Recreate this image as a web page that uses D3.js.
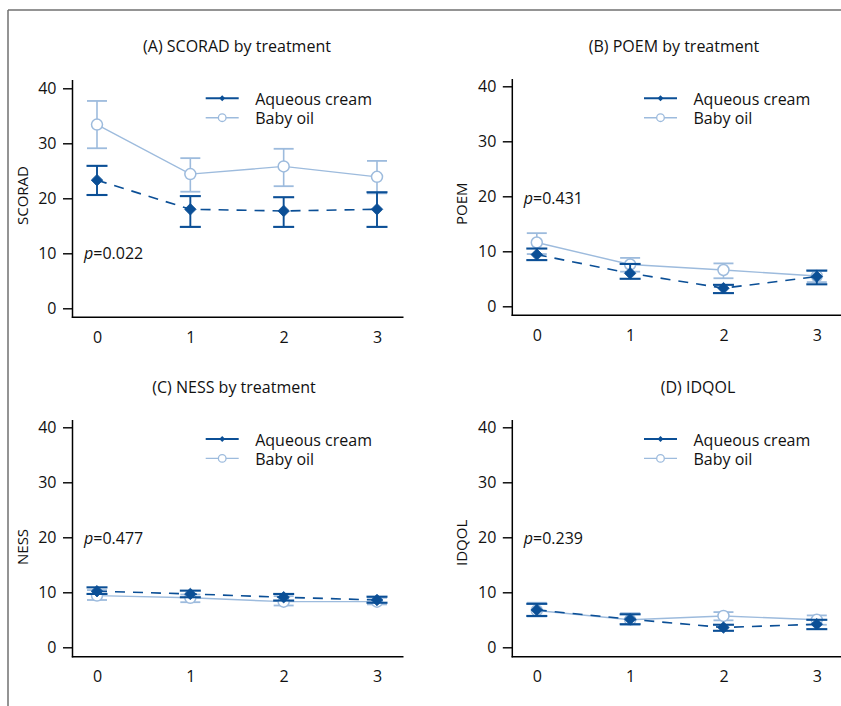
<!DOCTYPE html>
<html>
<head>
<meta charset="utf-8">
<script src="https://cdn.jsdelivr.net/npm/d3@7/dist/d3.min.js"></script>
<style>
  html, body { margin: 0; padding: 0; background: #fff; }
  svg { display: block; font-family: "Open Sans", "Noto Sans", sans-serif; }
</style>
</head>
<body>
<svg id="chart" width="841" height="706"></svg>
<script>
// ---------------- DATA ----------------
const visits = [0, 1, 2, 3];
const yTicks = [0, 10, 20, 30, 40];
const seriesNames = ["Aqueous cream", "Baby oil"];

const panelTitles = ["(A) SCORAD by treatment", "(B) POEM by treatment", "(C) NESS by treatment", "(D) IDQOL"];
const yLabels = ["SCORAD", "POEM", "NESS", "IDQOL"];
const pValues = ["0.022", "0.431", "0.477", "0.239"];

// SCORAD
const scoradAqMean = [23.3, 18.0, 17.7, 18.0];
const scoradAqLo   = [20.6, 14.8, 14.8, 14.8];
const scoradAqHi   = [25.9, 20.4, 20.2, 21.1];
const scoradBoMean = [33.4, 24.4, 25.8, 23.9];
const scoradBoLo   = [29.1, 21.2, 22.2, 20.9];
const scoradBoHi   = [37.7, 27.3, 29.0, 26.8];
// POEM
const poemAqMean = [9.4, 6.0, 3.3, 5.4];
const poemAqLo   = [8.4, 5.0, 2.4, 4.0];
const poemAqHi   = [10.5, 7.7, 3.9, 6.5];
const poemBoMean = [11.6, 7.6, 6.6, 5.5];
const poemBoLo   = [9.5, 6.3, 5.1, 4.4];
const poemBoHi   = [13.3, 8.8, 7.8, 6.4];
// NESS
const nessAqMean = [10.2, 9.7, 9.1, 8.6];
const nessAqLo   = [9.7, 9.1, 8.5, 8.1];
const nessAqHi   = [10.9, 10.3, 9.7, 9.2];
const nessBoMean = [9.4, 9.0, 8.3, 8.3];
const nessBoLo   = [8.6, 8.2, 7.6, 7.8];
const nessBoHi   = [10.4, 9.6, 9.3, 9.0];
// IDQOL
const idqolAqMean = [6.8, 5.1, 3.6, 4.2];
const idqolAqLo   = [5.7, 4.2, 3.0, 3.3];
const idqolAqHi   = [7.9, 6.0, 4.1, 5.0];
const idqolBoMean = [6.7, 5.0, 5.7, 5.0];
const idqolBoLo   = [5.6, 4.1, 4.9, 4.1];
const idqolBoHi   = [8.1, 6.2, 6.4, 5.8];

// ---------------- LAYOUT ----------------
const AQ = "#0b4f96", BO = "#9dbbdd";
const layouts = [
  {ax: 72.5, y0: 308.3, y40: 88.3, axTop: 80, xAxisY: 317.3, titleX: 237, titleY: 52, legX: 205.7, legY: 98.3, pY: 259, ylabX: 28, ylabY: 225},
  {ax: 512.3, y0: 306.3, y40: 86.3, axTop: 79, xAxisY: 315.3, titleX: 674, titleY: 52, legX: 644, legY: 98.3, pY: 204, ylabX: 467, ylabY: 225},
  {ax: 72.5, y0: 647.3, y40: 427.3, axTop: 420, xAxisY: 656.7, titleX: 234, titleY: 392.5, legX: 205.7, legY: 439, pY: 544, ylabX: 28, ylabY: 565},
  {ax: 512.3, y0: 647.3, y40: 427.3, axTop: 420, xAxisY: 656.7, titleX: 698, titleY: 392.5, legX: 644, legY: 439, pY: 544, ylabX: 467, ylabY: 566}
];

const panelData = [
  [[scoradAqMean, scoradAqLo, scoradAqHi], [scoradBoMean, scoradBoLo, scoradBoHi]],
  [[poemAqMean, poemAqLo, poemAqHi], [poemBoMean, poemBoLo, poemBoHi]],
  [[nessAqMean, nessAqLo, nessAqHi], [nessBoMean, nessBoLo, nessBoHi]],
  [[idqolAqMean, idqolAqLo, idqolAqHi], [idqolBoMean, idqolBoLo, idqolBoHi]]
];

const svg = d3.select("#chart");

// outer frame (top and left edges visible)
svg.append("line").attr("x1", 8).attr("x2", 841).attr("y1", 10).attr("y2", 10)
  .attr("stroke", "#707070").attr("stroke-width", 1.5);
svg.append("line").attr("x1", 8).attr("x2", 8).attr("y1", 10).attr("y2", 706)
  .attr("stroke", "#707070").attr("stroke-width", 1.5);

const diamond = d3.symbol().type(d3.symbolDiamond2);

layouts.forEach((L, i) => {
  const g = svg.append("g");
  const x = d3.scaleLinear().domain([0, 3]).range([L.ax + 24.5, L.ax + 304.5]);
  const y = d3.scaleLinear().domain([0, 40]).range([L.y0, L.y40]);

  // title
  g.append("text").attr("x", L.titleX).attr("y", L.titleY).attr("text-anchor", "middle")
    .attr("font-size", 16).attr("fill", "#111").text(panelTitles[i]);

  // y axis
  const yAxis = d3.axisLeft(y).tickValues(yTicks).tickSize(9.5).tickPadding(6.5).tickFormat(d3.format("d"));
  const yg = g.append("g").attr("transform", `translate(${L.ax},0)`).call(yAxis);
  yg.select(".domain").remove();
  yg.selectAll(".tick line").attr("stroke", "#000").attr("stroke-width", 1.4);
  yg.selectAll(".tick text").attr("font-size", 16).attr("fill", "#111").attr("font-family", "Open Sans, sans-serif");
  g.append("line").attr("x1", L.ax).attr("x2", L.ax).attr("y1", L.axTop).attr("y2", L.xAxisY + 0.7)
    .attr("stroke", "#000").attr("stroke-width", 1.5);

  // x axis
  const xAxis = d3.axisBottom(x).tickValues(visits).tickSize(0).tickPadding(14).tickFormat(d3.format("d"));
  const xg = g.append("g").attr("transform", `translate(0,${L.xAxisY})`).call(xAxis);
  xg.select(".domain").remove();
  xg.selectAll(".tick text").attr("font-size", 16).attr("fill", "#111").attr("font-family", "Open Sans, sans-serif");
  g.append("line").attr("x1", L.ax - 0.7).attr("x2", L.ax + 331).attr("y1", L.xAxisY).attr("y2", L.xAxisY)
    .attr("stroke", "#000").attr("stroke-width", 1.5);

  // y label
  g.append("text").attr("transform", `translate(${L.ylabX},${L.ylabY}) rotate(-90)`)
    .attr("text-anchor", "start").attr("font-size", 15).attr("fill", "#111").text(yLabels[i]);

  // p value
  const pt = g.append("text").attr("x", L.ax + 11.5).attr("y", L.pY).attr("font-size", 16).attr("fill", "#111");
  pt.append("tspan").attr("font-style", "italic").text("p");
  pt.append("tspan").text("=" + pValues[i]);

  const [aq, bo] = panelData[i];
  const line = d3.line().x((d, k) => x(visits[k])).y(d => y(d));

  // Baby oil: line, error bars, circles
  g.append("path").attr("d", line(bo[0])).attr("fill", "none").attr("stroke", BO).attr("stroke-width", 1.4);
  visits.forEach((v, k) => {
    const cx = x(v);
    g.append("line").attr("x1", cx).attr("x2", cx).attr("y1", y(bo[1][k])).attr("y2", y(bo[2][k]))
      .attr("stroke", BO).attr("stroke-width", 1.6);
    [bo[1][k], bo[2][k]].forEach(val => {
      g.append("line").attr("x1", cx - 10).attr("x2", cx + 10).attr("y1", y(val)).attr("y2", y(val))
        .attr("stroke", BO).attr("stroke-width", 1.8);
    });
  });
  visits.forEach((v, k) => {
    g.append("circle").attr("cx", x(v)).attr("cy", y(bo[0][k])).attr("r", 5.5)
      .attr("fill", "#fff").attr("stroke", BO).attr("stroke-width", 1.5);
  });

  // Aqueous cream: dashed line, error bars, diamonds
  g.append("path").attr("d", line(aq[0])).attr("fill", "none").attr("stroke", AQ).attr("stroke-width", 1.6)
    .attr("stroke-dasharray", "10,8");
  visits.forEach((v, k) => {
    const cx = x(v);
    g.append("line").attr("x1", cx).attr("x2", cx).attr("y1", y(aq[1][k])).attr("y2", y(aq[2][k]))
      .attr("stroke", AQ).attr("stroke-width", 1.9);
    [aq[1][k], aq[2][k]].forEach(val => {
      g.append("line").attr("x1", cx - 10.5).attr("x2", cx + 10.5).attr("y1", y(val)).attr("y2", y(val))
        .attr("stroke", AQ).attr("stroke-width", 2.1);
    });
    g.append("path").attr("d", diamond.size(85)()).attr("transform", `translate(${cx},${y(aq[0][k])})`)
      .attr("fill", AQ).attr("stroke", AQ).attr("stroke-width", 0.8);
  });

  // legend
  const legItems = [{c: AQ, name: seriesNames[0], dy: 0, sym: "d"}, {c: BO, name: seriesNames[1], dy: 19.4, sym: "o"}];
  legItems.forEach(it => {
    const ly = L.legY + it.dy;
    g.append("line").attr("x1", L.legX).attr("x2", L.legX + 33).attr("y1", ly).attr("y2", ly)
      .attr("stroke", it.c).attr("stroke-width", it.sym === "d" ? 1.9 : 1.4);
    if (it.sym === "d") {
      g.append("path").attr("d", diamond.size(22)()).attr("transform", `translate(${L.legX + 16.5},${ly})`).attr("fill", it.c);
    } else {
      g.append("circle").attr("cx", L.legX + 16.5).attr("cy", ly).attr("r", 3.8).attr("fill", "#fff")
        .attr("stroke", it.c).attr("stroke-width", 1.3);
    }
    g.append("text").attr("x", L.legX + 49.5).attr("y", ly + 6.5).attr("font-size", 16).attr("fill", "#111").text(it.name);
  });
});
</script>
</body>
</html>
